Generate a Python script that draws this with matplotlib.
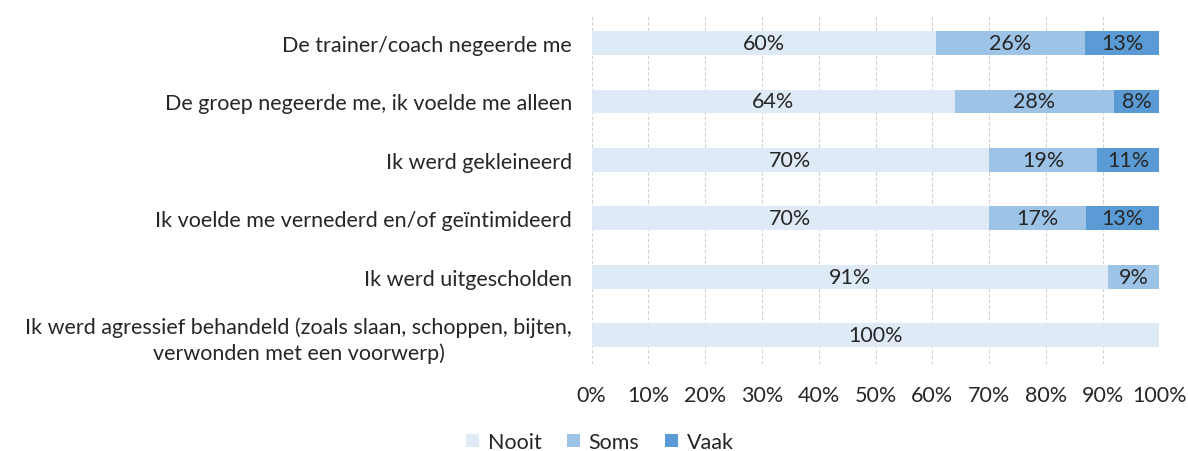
import numpy as np
import matplotlib
matplotlib.use('Agg')
import matplotlib.pyplot as plt

plt.rcParams['font.family'] = ['Lato', 'DejaVu Sans']

# ---- data ----
categorieen = [
    'De trainer/coach negeerde me',
    'De groep negeerde me, ik voelde me alleen',
    'Ik werd gekleineerd',
    'Ik voelde me vernederd en/of ge\u00efntimideerd',
    'Ik werd uitgescholden',
    'Ik werd agressief behandeld (zoals slaan, schoppen, bijten,\nverwonden met een voorwerp)',
]
nooit = [60, 64, 70, 70, 91, 100]
soms = [26, 28, 19, 17, 9, 0]
vaak = [13, 8, 11, 13, 0, 0]
reeksen = ['Nooit', 'Soms', 'Vaak']
kleuren = ['#DEEBF7', '#9DC3E6', '#5B9BD5']

waarden = np.array([nooit, soms, vaak], dtype=float)
totaal = waarden.sum(axis=0)
aandeel = waarden / totaal * 100  # 100% gestapeld

fig = plt.figure(figsize=(11.88, 4.52), dpi=100)
ax = fig.add_axes([0.498, 0.192, 0.478, 0.775])

FS = 15.5
y = np.arange(len(categorieen))
links = np.zeros(len(categorieen))
tekstkleur = '#262626'
for i, naam in enumerate(reeksen):
    bars = ax.barh(y, aandeel[i], left=links, height=0.41, color=kleuren[i],
                   label=naam, zorder=3)
    for b, v in zip(bars, waarden[i]):
        if v > 0:
            ax.text(b.get_x() + b.get_width() / 2, b.get_y() + b.get_height() / 2,
                    f'{int(v)}%', ha='center', va='center', fontsize=FS,
                    color=tekstkleur, zorder=4)
    links += aandeel[i]

ax.set_xlim(0, 100)
ax.set_ylim(len(categorieen) - 0.5, -0.5)
ax.set_xticks(np.arange(0, 101, 10))
ax.set_xticklabels([f'{t}%' for t in range(0, 101, 10)])
ax.set_yticks(y)
ax.set_yticklabels(categorieen, multialignment='center', linespacing=1.3)
ax.tick_params(axis='both', length=0, labelsize=FS, colors='#262626')
ax.tick_params(axis='y', pad=14)
ax.tick_params(axis='x', pad=15)
for s in ax.spines.values():
    s.set_visible(False)
ax.grid(axis='x', color='#D0D0D0', linestyle=(0, (3, 2)), linewidth=0.8, zorder=0)

leg = fig.legend(loc='center', bbox_to_anchor=(0.505, 0.02), ncol=3, frameon=False,
                 fontsize=FS, handlelength=0.6, handleheight=0.6, handletextpad=0.4,
                 columnspacing=1.2)
for t in leg.get_texts():
    t.set_color('#262626')

plt.savefig('out.png', dpi=100)
